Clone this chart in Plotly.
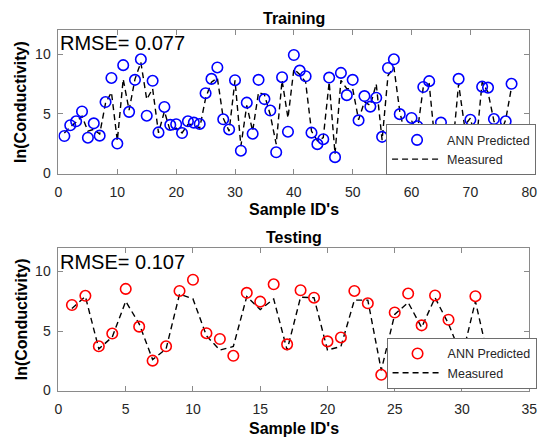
import plotly.graph_objects as go

# ---------------- data ----------------
train_ids = list(range(1, 78))
train_pred = [3.14, 4.04, 4.37, 5.19, 3.0, 4.2, 3.17, 5.98, 8.0, 2.51,
              9.07, 5.16, 7.84, 9.56, 4.84, 7.76, 3.44, 5.57, 4.07, 4.13,
              3.39, 4.37, 4.26, 4.15, 6.72, 7.92, 8.88, 4.54, 3.69, 7.81,
              1.91, 5.93, 3.33, 7.84, 6.23, 5.27, 1.78, 8.06, 3.5, 9.92,
              8.61, 8.14, 3.42, 2.46, 2.87, 8.03, 1.37, 8.42, 6.56, 7.84,
              4.45, 6.48, 5.6, 6.34, 3.07, 8.83, 9.56, 4.97, 2.9, 4.65,
              3.96, 7.24, 7.73, 2.2, 4.26, 2.6, 1.9, 7.92, 3.63, 4.5,
              2.4, 7.27, 7.19, 4.56, 3.0, 4.37, 7.51]
train_meas = [3.4, 3.9, 4.3, 4.8, 3.55, 3.7, 3.3, 5.9, 6.8, 2.73,
              7.9, 5.3, 7.9, 9.3, 6.2, 7.1, 3.4, 5.2, 3.55, 3.8,
              3.4, 4.1, 4.1, 3.8, 6.3, 7.65, 8.0, 4.64, 3.55, 7.8,
              2.3, 5.7, 3.55, 6.8, 6.6, 4.9, 2.46, 7.8, 4.64, 8.74,
              8.3, 7.65, 3.55, 2.73, 3.0, 7.65, 1.64, 7.8, 7.1, 7.1,
              4.5, 6.0, 5.7, 7.5, 2.8, 8.2, 8.9, 5.2, 3.0, 4.4,
              3.55, 7.24, 7.5, 2.5, 3.7, 2.8, 2.2, 7.5, 4.0, 4.64,
              2.5, 7.65, 6.8, 4.4, 3.2, 4.5, 7.24]

test_ids = list(range(1, 33))
test_pred = [7.19, 7.96, 3.72, 4.79, 8.54, 5.37, 2.51, 3.72, 8.37, 9.31,
             4.82, 4.33, 2.92, 8.21, 7.47, 8.93, 3.88, 8.43, 7.8, 4.13,
             4.46, 8.37, 7.33, 1.32, 6.56, 8.15, 5.48, 7.99, 5.95, 3.0,
             7.93, 2.7]
test_meas = [6.9, 7.9, 3.5, 4.5, 7.5, 5.6, 2.6, 3.5, 8.1, 7.7,
             4.6, 3.4, 3.7, 7.9, 6.8, 7.7, 3.4, 7.85, 7.8, 3.4,
             3.7, 7.6, 7.6, 1.7, 6.4, 7.4, 5.3, 7.8, 5.6, 2.8,
             7.5, 2.5]

train_xticks = [0, 10, 20, 30, 40, 50, 60, 70, 80]
test_xticks = [0, 5, 10, 15, 20, 25, 30, 35]
y_ticks = [0, 5, 10]

rmse_train = "RMSE= 0.077"
rmse_test = "RMSE= 0.107"

# ---------------- figure ----------------
W, H = 547, 444
FONT = "Liberation Sans, Arial, sans-serif"
AX_COL = "#8a8a8a"
TXT_COL = "#262626"

fig = go.Figure()

fig.add_trace(go.Scatter(x=train_ids, y=train_meas, mode="lines", name="Measured",
                         line=dict(color="black", width=1.4, dash="6px,4px"),
                         xaxis="x", yaxis="y", legend="legend", legendrank=2))
fig.add_trace(go.Scatter(x=train_ids, y=train_pred, mode="markers", name="ANN Predicted",
                         marker=dict(symbol="circle-open", size=10.5, color="#0000ff",
                                     line=dict(width=1.6, color="#0000ff")),
                         xaxis="x", yaxis="y", legend="legend", legendrank=1))
fig.add_trace(go.Scatter(x=test_ids, y=test_meas, mode="lines", name="Measured",
                         line=dict(color="black", width=1.4, dash="6px,4px"),
                         xaxis="x2", yaxis="y2", legend="legend2", legendrank=2))
fig.add_trace(go.Scatter(x=test_ids, y=test_pred, mode="markers", name="ANN Predicted",
                         marker=dict(symbol="circle-open", size=10.5, color="#ff0000",
                                     line=dict(width=1.6, color="#ff0000")),
                         xaxis="x2", yaxis="y2", legend="legend2", legendrank=1))

x0, x1 = 55.7 / W, 537.0 / W
tr_top, tr_bot = 1 - 30.7 / H, 1 - 176.7 / H
te_top, te_bot = 1 - 252.3 / H, 1 - 397.7 / H

axis_common = dict(showgrid=False, zeroline=False, showline=True, linecolor=AX_COL,
                   linewidth=1, mirror="ticks", ticks="inside", ticklen=5,
                   tickcolor=AX_COL, tickfont=dict(family=FONT, size=14, color=TXT_COL))

legend_common = dict(bgcolor="white", bordercolor="#6e6e6e", borderwidth=1,
                     font=dict(family=FONT, size=12.5, color=TXT_COL),
                     xanchor="right", yanchor="bottom", tracegroupgap=0,
                     itemwidth=50, traceorder="normal")

fig.update_layout(
    width=W, height=H, margin=dict(l=0, r=0, t=0, b=0),
    paper_bgcolor="white", plot_bgcolor="white",
    font=dict(family=FONT, color=TXT_COL),
    xaxis=dict(domain=[x0, x1], range=[0, 80], tickvals=train_xticks, anchor="y",
               ticklabelstandoff=6, **axis_common),
    yaxis=dict(domain=[tr_bot, tr_top], range=[0, 12], tickvals=y_ticks, anchor="x",
               ticklabelstandoff=4, **axis_common),
    xaxis2=dict(domain=[x0, x1], range=[0, 35], tickvals=test_xticks, anchor="y2",
                ticklabelstandoff=6, **axis_common),
    yaxis2=dict(domain=[te_bot, te_top], range=[0, 12], tickvals=y_ticks, anchor="x2",
                ticklabelstandoff=4, **axis_common),
    legend=dict(x=544 / W, y=1 - 178.5 / H, **legend_common),
    legend2=dict(x=544.5 / W, y=1 - 396 / H, **legend_common),
    showlegend=True,
)

bold = dict(family=FONT, size=16, color="black")
ann = [
    dict(text="<b>Training</b>", x=(x0 + x1) / 2, y=1 - 19 / H),
    dict(text="<b>Testing</b>", x=(x0 + x1) / 2, y=1 - 241.5 / H),
    dict(text="<b>Sample ID's</b>", x=(x0 + x1) / 2, y=1 - 213 / H),
    dict(text="<b>Sample ID's</b>", x=(x0 + x1) / 2, y=1 - 436 / H),
]
for a in ann:
    fig.add_annotation(xref="paper", yref="paper", showarrow=False,
                       xanchor="center", yanchor="middle", font=bold, **a)
for yc in [(30.7 + 176.7) / 2, (252.3 + 397.7) / 2]:
    fig.add_annotation(text="<b>ln(Conductivity)</b>", xref="paper", yref="paper",
                       x=17.5 / W, y=1 - yc / H, showarrow=False, textangle=-90,
                       xanchor="center", yanchor="middle", font=bold)

fig.add_annotation(text=rmse_train, xref="x domain", yref="y domain", x=0.0, y=0.907,
                   xanchor="left", yanchor="middle", showarrow=False,
                   font=dict(family=FONT, size=20, color="black"))
fig.add_annotation(text=rmse_test, xref="x2 domain", yref="y2 domain", x=0.0, y=0.901,
                   xanchor="left", yanchor="middle", showarrow=False,
                   font=dict(family=FONT, size=20, color="black"))

fig.write_html("out.html", config={"displayModeBar": False})

# remove the default page margin so the figure sits at the window origin
with open("out.html", "r", encoding="utf-8") as f:
    html = f.read()
html = html.replace("<head>", "<head><style>html,body{margin:0;padding:0;overflow:hidden;}</style>", 1)
with open("out.html", "w", encoding="utf-8") as f:
    f.write(html)
